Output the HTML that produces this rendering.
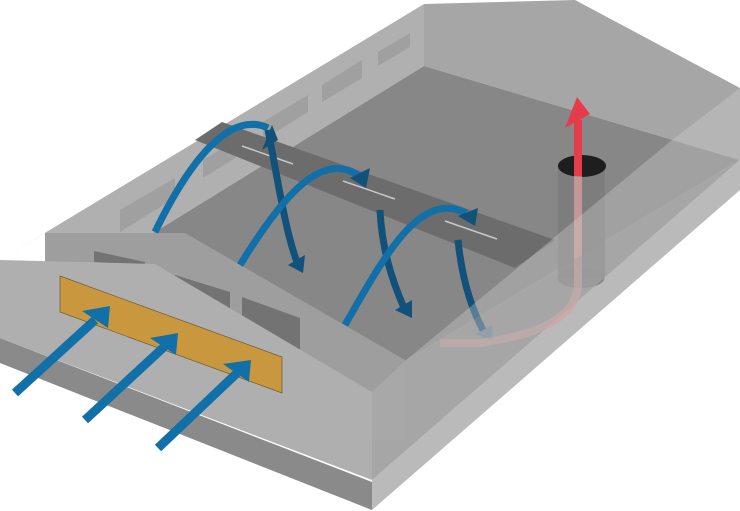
<!DOCTYPE html>
<html><head><style>html,body{margin:0;padding:0;background:#fff}svg{display:block}</style></head>
<body>
<svg width="740" height="511" viewBox="0 0 740 511" xmlns="http://www.w3.org/2000/svg">
<polygon points="0,260 424,4 424,66 150,235 45,233 0,260" fill="#b0b0b0"/>
<polygon points="424,4 575,0 740,88 740,160 424,66" fill="#a6a6a6"/>
<g fill="#a0a0a0">
<polygon points="120,210 175,178 175,198 120,232"/>
<polygon points="203,160 240,138 240,155 203,178"/>
<polygon points="263,122 308,95 308,112 263,140"/>
<polygon points="322,85 362,60 362,78 322,102"/>
<polygon points="378,52 410,33 410,47 378,66"/>
</g>
<polygon points="424,66 740,160 405,361 150,235" fill="#878787"/>
<polygon points="740,160 405,361 372,392 372,480" fill="#9a9a9a"/>
<polygon points="372,480 372,510 740,190 740,160" fill="#bababa"/>
<polygon points="195,140 222,122 555,240 515,268" fill="#6c6c6c"/>
<g stroke="#c8c8c8" stroke-width="1.5">
<line x1="242" y1="146" x2="293" y2="164"/>
<line x1="343" y1="181" x2="395" y2="199"/>
<line x1="445" y1="221" x2="497" y2="239"/>
</g>
<polygon points="45,233 185,233 405,360 405,440 370,440 370,392 45,270" fill="#9e9e9e"/>
<polygon points="94,251 145,262 145,265 94,262" fill="#737373"/>
<polygon points="175,275 230,292 230,315 175,295" fill="#737373"/>
<polygon points="242,297 300,318 300,352 242,330" fill="#737373"/>
<g fill="none" stroke-width="7">
<path d="M155,232 C190,160 230,110 268,128" stroke="#1170a8"/>
<path d="M268,130 C278,180 285,230 297,262" stroke="#12527a"/>
<path d="M240,265 C280,200 320,150 358,175" stroke="#1170a8"/>
<path d="M380,210 C382,250 392,280 404,308" stroke="#12527a"/>
<path d="M345,325 C385,255 420,190 466,213" stroke="#1170a8"/>
<path d="M458,240 C462,280 472,310 484,332" stroke="#12527a"/>
</g>
<g fill="#12527a">
<polygon points="278,140 262,150 272,125"/>
<polygon points="288,265 305,255 303,273"/>
<polygon points="366,188 350,178 370,168"/>
<polygon points="395,310 412,300 412,318"/>
<polygon points="475,226 458,216 478,208"/>
<polygon points="476,334 492,325 493,342" fill="#6f8aa4"/>
</g>
<polygon points="0,260 155,264 372,392 372,480 0,338" fill="#afafaf"/>
<polygon points="0,338 372,482 372,510 0,363" fill="#8a8a8a"/>
<polygon points="60,276 282,357 282,393 60,312" fill="#c9973d" stroke="#6a5a3a" stroke-width="0.7"/>
<g stroke="#1170a8" stroke-width="9" fill="#1170a8">
<line x1="15" y1="393" x2="95" y2="320"/>
<line x1="85" y1="420" x2="165" y2="346"/>
<line x1="158" y1="448" x2="237" y2="373"/>
</g>
<g fill="#1170a8">
<polygon points="82,311 110,306 108,328"/>
<polygon points="150,338 178,333 176,355"/>
<polygon points="223,364 251,360 249,382"/>
</g>
<rect x="558" y="166" width="47" height="112" fill="#7a7a7a" opacity="0.8"/>
<ellipse cx="581" cy="278" rx="23.5" ry="10" fill="#7a7a7a" opacity="0.8"/>
<ellipse cx="582" cy="166" rx="24" ry="11" fill="#1e1e1e"/>
<path d="M578,176 L578,285 Q575,330 480,343 L440,343" fill="none" stroke="#d9a0a0" stroke-width="8" opacity="0.75"/>
<line x1="578" y1="176" x2="578" y2="120" stroke="#e63b4a" stroke-width="8"/>
<polygon points="577,97 565,128 590,114" fill="#e63b4a"/>
<polygon points="672,140 740,88 740,160 405,361" fill="#d0d0d0" opacity="0.35"/>
<polygon points="740,160 405,361 372,392 372,480" fill="#b0b0b0" opacity="0.55"/>
<polygon points="405,361 405,440 372,430 372,392" fill="#a8a8a8" opacity="0.5"/>
</svg>
</body></html>
